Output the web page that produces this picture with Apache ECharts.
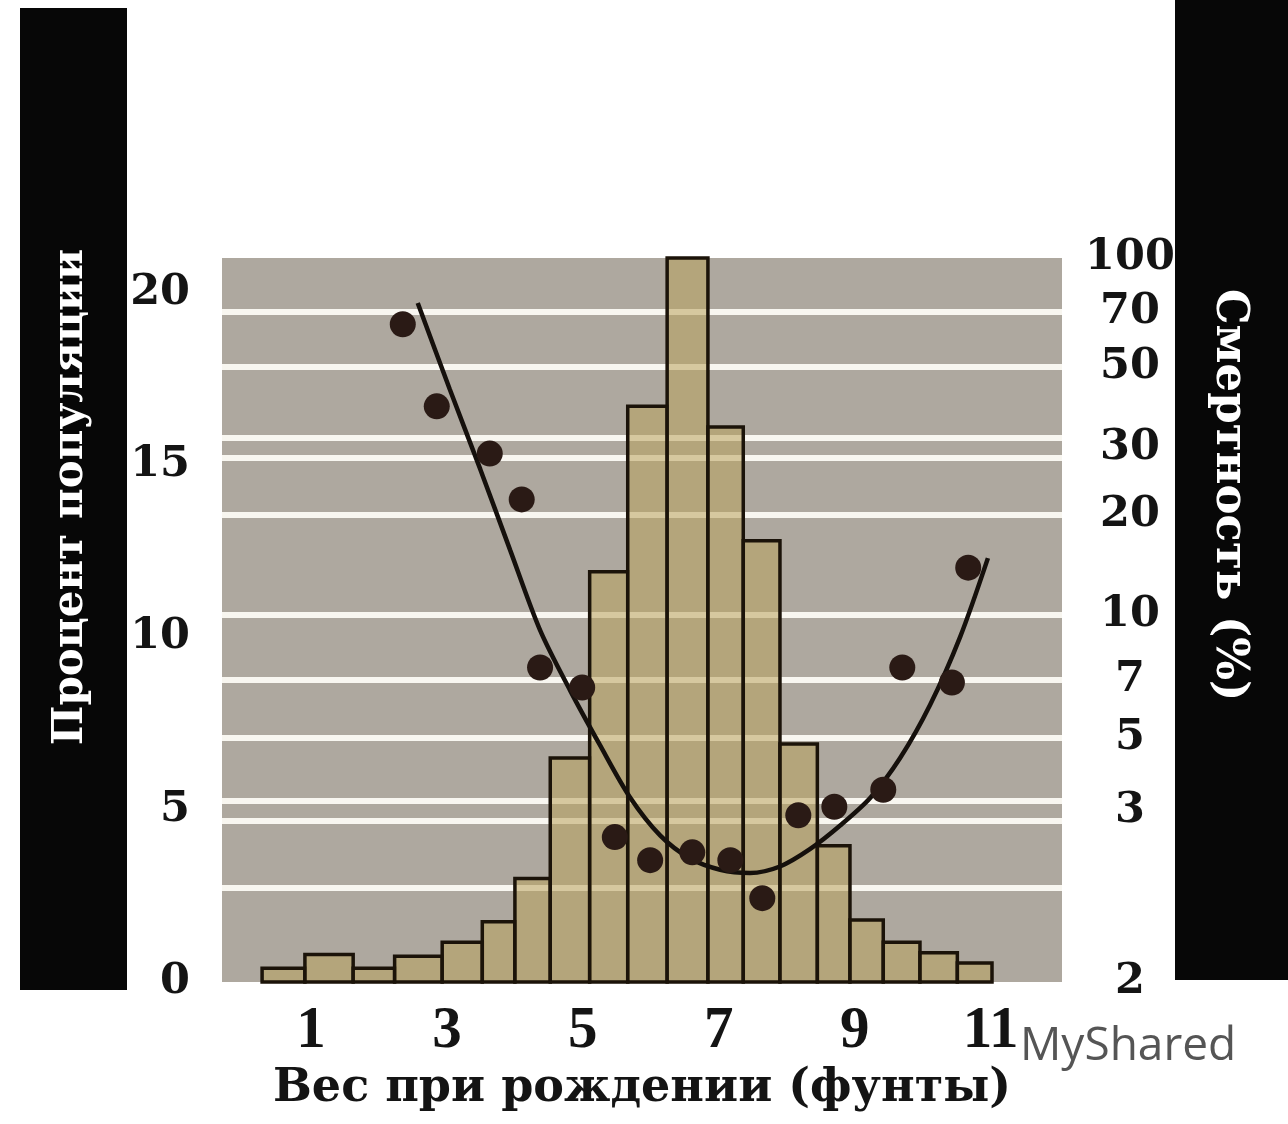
<!DOCTYPE html>
<html><head><meta charset="utf-8">
<script src="https://cdn.jsdelivr.net/npm/echarts@6/dist/echarts.min.js"></script>
<style>html,body{margin:0;padding:0;background:#fff}#c{width:1288px;height:1124px}</style>
</head><body><div id="c"></div>
<script>
// Histogram of birth weight: bin edges (lb) and percent of population
const binStart = [0.28,0.91,1.62,2.23,2.93,3.52,4.00,4.52,5.10,5.66,6.24,6.84,7.36,7.90,8.45,8.93,9.42,9.96,10.51];
const binEnd   = [0.91,1.62,2.23,2.93,3.52,4.00,4.52,5.10,5.66,6.24,6.84,7.36,7.90,8.45,8.93,9.42,9.96,10.51,11.02];
const populationPct = [0.4,0.8,0.4,0.75,1.15,1.75,3.0,6.5,11.9,16.7,21.0,16.1,12.8,6.9,3.95,1.8,1.15,0.85,0.55];

// Observed mortality (%) by birth weight (lb)
const mortWeight = [2.35,2.85,3.63,4.10,4.37,4.99,5.47,5.99,6.61,7.17,7.64,8.17,8.70,9.42,9.70,10.43,10.67];
const mortPct    = [65,39,29,22,7.5,6.7,2.82,2.67,2.72,2.67,2.44,2.97,3.09,3.48,7.5,6.9,13.9];

// Fitted mortality curve
const curveWeight = [2.57,3.04,3.49,3.93,4.37,4.81,5.25,5.69,6.14,6.58,7.02,7.46,7.90,8.34,8.79,9.23,9.67,10.11,10.55,10.96];
const curvePct    = [74.3,43.5,26.4,15.7,9.21,6.60,4.76,3.31,2.83,2.68,2.61,2.59,2.63,2.74,2.90,3.29,4.35,6.06,8.86,14.85];

// Tick labels
const xTicks = [1,3,5,7,9,11];
const popTicks = [0,5,10,15,20];
const mortTicks = [2,3,5,7,10,20,30,50,70,100];
const mortGridValues = [2.5,3,5,7,10,20,30,50,70];
const mortDoubleLines = [3,30];

// Mortality scale as printed (non-uniform): tick -> position on a 0..21 axis
const mortScalePos = [0,4.96,7.08,8.76,10.64,13.54,15.49,17.84,19.43,21.0];
function mortToPos(v){
  const lv = Math.log10(v);
  for (let i = 0; i < mortTicks.length - 1; i++) {
    const a = Math.log10(mortTicks[i]), b = Math.log10(mortTicks[i+1]);
    if (lv <= b || i === mortTicks.length - 2) {
      const t = (lv - a) / (b - a);
      return mortScalePos[i] + t * (mortScalePos[i+1] - mortScalePos[i]);
    }
  }
}
const gridPositions = [];
mortGridValues.forEach(v => {
  const p = mortToPos(v);
  if (mortDoubleLines.indexOf(v) >= 0) { gridPositions.push(p - 0.29, p + 0.29); }
  else gridPositions.push(p);
});
const labelPositions = mortTicks.map(mortToPos);

const barData = binStart.map((s, i) => [s, binEnd[i], populationPct[i]]);
const scatterData = mortWeight.map((w, i) => [w, mortToPos(mortPct[i])]);
const curveData = curveWeight.map((w, i) => [w, mortToPos(curvePct[i])]);

const chart = echarts.init(document.getElementById('c'), null, {renderer: 'canvas'});
chart.setOption({
  animation: false,
  backgroundColor: '#ffffff',
  grid: {left: 222, right: 226, top: 258, bottom: 142, show: true, backgroundColor: '#aea89f', borderWidth: 0},
  xAxis: {
    type: 'value', min: -0.31, max: 12.05,
    axisLine: {show: false}, axisTick: {show: false}, splitLine: {show: false},
    axisLabel: {customValues: xTicks, margin: 20, color: '#141414', fontFamily: '"Liberation Serif"', fontWeight: 'bold', fontSize: 59},
    name: 'Вес при рождении (фунты)', nameLocation: 'middle', nameGap: 76,
    nameTextStyle: {color: '#141414', fontFamily: '"DejaVu Serif"', fontWeight: 'bold', fontSize: 46}
  },
  yAxis: [
    {
      type: 'value', min: 0, max: 21, position: 'left',
      axisLine: {show: false}, axisTick: {show: false}, splitLine: {show: false},
      axisLabel: {customValues: popTicks, margin: 32, padding: [0,0,12,0], color: '#141414', fontFamily: '"DejaVu Serif"', fontWeight: 'bold', fontSize: 43}
    },
    {
      type: 'value', min: 0, max: 21, position: 'right',
      axisLine: {show: false},
      axisTick: {show: false, customValues: gridPositions},
      splitLine: {show: true, lineStyle: {color: '#f8f6f0', width: 6}},
      axisLabel: {
        customValues: labelPositions, margin: 68, align: 'center', padding: [0,0,16,0],
        color: '#141414', fontFamily: '"DejaVu Serif"', fontWeight: 'bold', fontSize: 43,
        formatter: function (val) {
          for (let i = 0; i < mortTicks.length; i++) {
            if (Math.abs(labelPositions[i] - val) < 1e-6) return String(mortTicks[i]);
          }
          return '';
        }
      }
    }
  ],
  graphic: [
    {type: 'rect', left: 20, top: 8, shape: {width: 107, height: 982}, style: {fill: '#070707'}, z: 1},
    {type: 'rect', left: 1175, top: 0, shape: {width: 113, height: 980}, style: {fill: '#070707'}, z: 1},
    {type: 'text', x: 71, y: 497, rotation: Math.PI / 2, z: 2,
      style: {text: 'Процент популяции', fill: '#ffffff', font: 'bold 42px "DejaVu Serif"', align: 'center', verticalAlign: 'middle'}},
    {type: 'text', x: 1229, y: 495, rotation: -Math.PI / 2, z: 2,
      style: {text: 'Смертность (%)', fill: '#ffffff', font: 'bold 45px "DejaVu Serif"', align: 'center', verticalAlign: 'middle'}},
    {type: 'text', x: 1020, y: 1047, z: 2,
      style: {text: 'MyShared', fill: '#555555', font: '46px "Open Sans"', align: 'left', verticalAlign: 'middle'}}
  ],
  series: [
    {
      type: 'custom', xAxisIndex: 0, yAxisIndex: 0, z: 2,
      encode: {x: [0, 1], y: 2},
      data: barData,
      renderItem: function (params, api) {
        const p0 = api.coord([api.value(0), 0]);
        const p1 = api.coord([api.value(1), api.value(2)]);
        return {
          type: 'rect',
          shape: {x: p0[0], y: p1[1], width: p1[0] - p0[0], height: p0[1] - p1[1]},
          style: {fill: 'rgba(185,163,93,0.55)', stroke: '#1b1309', lineWidth: 3.5}
        };
      }
    },
    {
      type: 'line', xAxisIndex: 0, yAxisIndex: 1, z: 3,
      data: curveData, smooth: 0.3, symbol: 'none',
      lineStyle: {color: '#15100c', width: 4.5}
    },
    {
      type: 'scatter', xAxisIndex: 0, yAxisIndex: 1, z: 4,
      data: scatterData, symbol: 'circle', symbolSize: 26,
      itemStyle: {color: '#2a1a15', opacity: 1}
    }
  ]
});
</script>
</body></html>
